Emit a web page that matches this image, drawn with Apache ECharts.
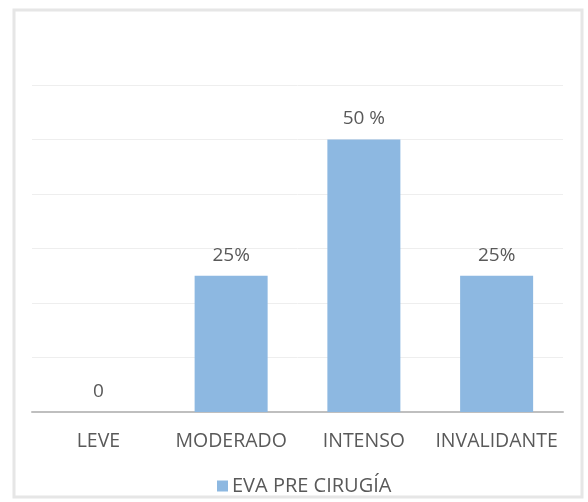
<!DOCTYPE html>
<html>
<head>
<meta charset="utf-8">
<script src="https://cdn.jsdelivr.net/npm/echarts@6/dist/echarts.min.js"></script>
<style>
html,body{margin:0;padding:0;background:#fff;}
#c{width:588px;height:502px;}
</style>
</head>
<body>
<div id="c"></div>
<script>
const categories = ['LEVE', 'MODERADO', 'INTENSO', 'INVALIDANTE'];
const seriesName = 'EVA PRE CIRUGÍA';
const values = [0, 25, 50, 25];
const labels = ['0', '25%', '50 %', '25%'];

const chart = echarts.init(document.getElementById('c'), null, {renderer: 'canvas'});
const font = '"Open Sans", "Noto Sans", sans-serif';
chart.setOption({
  animation: false,
  backgroundColor: '#ffffff',
  graphic: [{
    type: 'rect',
    shape: {x: 14, y: 10, width: 568, height: 487},
    style: {fill: 'none', stroke: '#e6e6e6', lineWidth: 3},
    silent: true
  }],
  grid: {left: 32, right: 25, top: 85, bottom: 90, containLabel: false},
  legend: {
    data: [seriesName],
    left: 212, top: 471,
    itemWidth: 11, itemHeight: 11, itemGap: 6,
    icon: 'rect',
    textStyle: {color: '#595959', fontSize: 20, fontFamily: font, padding: [0,0,0,-1]}
  },
  xAxis: {
    type: 'category',
    data: categories,
    axisLine: {lineStyle: {color: '#bfbfbf', width: 2}},
    axisTick: {show: false},
    axisLabel: {color: '#595959', fontSize: 19.5, fontFamily: font, margin: 19, interval: 0, hideOverlap: false}
  },
  yAxis: {
    type: 'value',
    min: 0, max: 60, interval: 10,
    axisLabel: {show: false},
    axisLine: {show: false},
    axisTick: {show: false},
    splitLine: {lineStyle: {color: '#eeeeee', width: 1}}
  },
  series: [{
    name: seriesName,
    type: 'bar',
    data: values,
    barCategoryGap: '45%',
    itemStyle: {color: '#8db8e1'},
    label: {
      show: true,
      position: 'top',
      distance: 11,
      color: '#595959',
      fontSize: 19,
      fontFamily: font,
      formatter: p => labels[p.dataIndex]
    }
  }]
});
</script>
</body>
</html>
